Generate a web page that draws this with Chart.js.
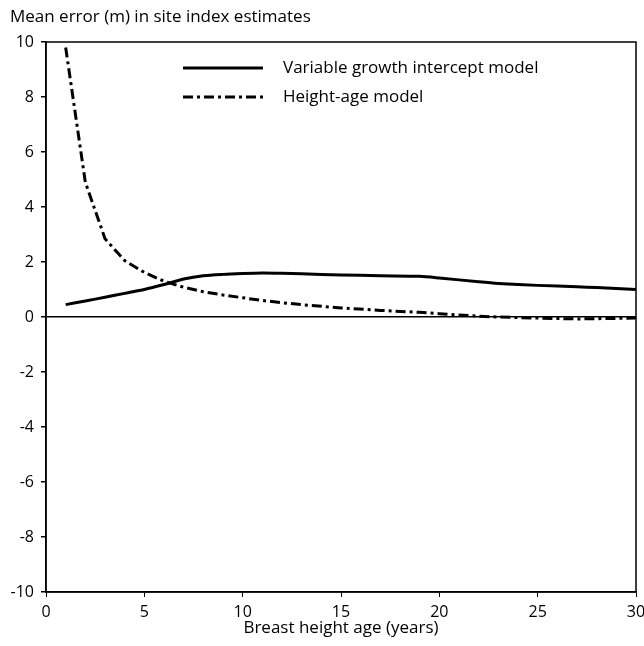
<!DOCTYPE html>
<html>
<head>
<meta charset="utf-8">
<script src="https://cdn.jsdelivr.net/npm/chart.js@4"></script>
<style>
  html, body { margin: 0; padding: 0; background: #fff; }
  #wrap { width: 644px; height: 646px; }
</style>
</head>
<body>
<div id="wrap"><canvas id="chart"></canvas></div>
<script>
// values
const ages = [1, 2, 3, 4, 5, 6, 7, 8, 9, 10, 11, 12, 13, 15, 17, 19, 20, 22, 23, 25, 27, 28, 30];
const variableGrowth = [0.45, 0.58, 0.72, 0.86, 1.0, 1.18, 1.38, 1.5, 1.55, 1.58, 1.6, 1.59, 1.57, 1.53, 1.5, 1.48, 1.42, 1.28, 1.22, 1.15, 1.1, 1.07, 1.0];
const heightAge = [9.8, 4.9, 2.85, 2.05, 1.62, 1.3, 1.08, 0.92, 0.8, 0.7, 0.6, 0.52, 0.45, 0.33, 0.24, 0.17, 0.12, 0.03, 0.0, -0.04, -0.07, -0.06, -0.04];
const xTicks = [0, 5, 10, 15, 20, 25, 30];
const yTicks = [-10, -8, -6, -4, -2, 0, 2, 4, 6, 8, 10];
const seriesNames = ['Variable growth intercept model', 'Height-age model'];
const yTitle = 'Mean error (m) in site index estimates';
const xTitle = 'Breast height age (years)';

const FONT = '"Open Sans", Lato, sans-serif';

const toPoints = (vals) => ages.map((a, i) => ({ x: a, y: vals[i] }));

const framePlugin = {
    id: 'frame',
    afterDraw(chart) {
        const ctx = chart.ctx;
        const a = chart.chartArea;
        ctx.save();
        ctx.strokeStyle = '#000';
        ctx.lineWidth = 1.5;
        ctx.strokeRect(a.left, a.top, a.right - a.left, a.bottom - a.top);

        // y title above the plot
        ctx.fillStyle = '#000';
        ctx.font = '17px ' + FONT;
        ctx.textAlign = 'left';
        ctx.textBaseline = 'middle';
        ctx.fillText(yTitle, 10, 17);

        // legend inside plot
        const dashes = [[], [10, 4, 3, 4]];
        chart.data.datasets.forEach(function (ds, i) {
            const y = 68 + i * 29;
            ctx.beginPath();
            ctx.setLineDash(dashes[i]);
            ctx.lineWidth = 3;
            ctx.moveTo(183, y);
            ctx.lineTo(263, y);
            ctx.stroke();
            ctx.setLineDash([]);
            ctx.fillText(ds.label, 283, y);
        });
        ctx.restore();
    }
};

const ctx = document.getElementById('chart').getContext('2d');
const chart = new Chart(ctx, {
    type: 'line',
    data: {
        datasets: [{
            label: seriesNames[0],
            data: toPoints(variableGrowth),
            borderColor: '#000',
            borderWidth: 3,
            pointRadius: 0,
            tension: 0.25,
            fill: false
        }, {
            label: seriesNames[1],
            data: toPoints(heightAge),
            borderColor: '#000',
            borderWidth: 3,
            borderDash: [10, 4, 3, 4],
            pointRadius: 0,
            tension: 0,
            fill: false
        }]
    },
    options: {
        responsive: true,
        maintainAspectRatio: false,
        animation: false,
        layout: { padding: { top: 42, right: 8, left: 0, bottom: 8 } },
        plugins: {
            legend: { display: false },
            tooltip: { enabled: false }
        },
        scales: {
            x: {
                type: 'linear',
                min: 0,
                max: 30,
                afterFit: function (scale) {
                    scale.height = 46;
                    scale.paddingLeft = 0;
                    scale.paddingRight = 0;
                },
                afterBuildTicks: function (scale) {
                    scale.ticks = xTicks.map(v => ({ value: v }));
                },
                border: { display: true, color: '#000', width: 1.5 },
                grid: {
                    drawOnChartArea: false,
                    drawTicks: true,
                    tickLength: 5,
                    tickColor: '#000'
                },
                ticks: {
                    color: '#000',
                    padding: 6,
                    maxRotation: 0,
                    font: { family: FONT, size: 16 }
                },
                title: {
                    display: true,
                    text: xTitle,
                    color: '#000',
                    padding: { top: 0, bottom: 0 },
                    font: { family: FONT, size: 17 }
                }
            },
            y: {
                min: -10,
                max: 10,
                afterFit: function (scale) { scale.width = 46; },
                afterBuildTicks: function (scale) {
                    scale.ticks = yTicks.map(v => ({ value: v }));
                },
                border: { display: true, color: '#000', width: 1.5 },
                grid: {
                    drawTicks: true,
                    tickLength: 5,
                    tickColor: '#000',
                    lineWidth: 1.5,
                    color: function (c) {
                        return c.tick && c.tick.value === 0 ? '#000' : 'rgba(0,0,0,0)';
                    }
                },
                ticks: {
                    color: '#000',
                    padding: 7,
                    font: { family: FONT, size: 16 }
                }
            }
        }
    },
    plugins: [framePlugin]
});
</script>
</body>
</html>
